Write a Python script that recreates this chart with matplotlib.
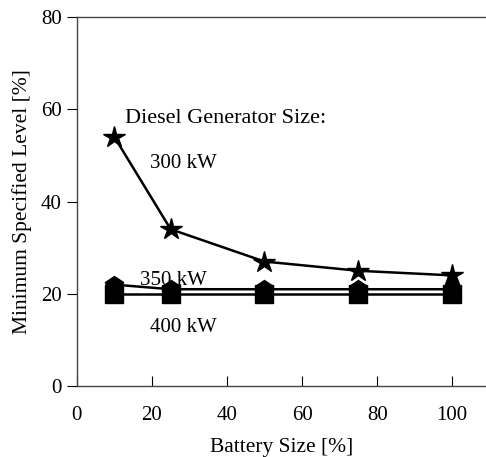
import matplotlib.pyplot as plt

battery = [10, 25, 50, 75, 100]
gen_300 = [54, 34, 27, 25, 24]
gen_350 = [22, 21, 21, 21, 21]
gen_400 = [20, 20, 20, 20, 20]

plt.rcParams['font.family'] = 'Liberation Serif'

fig = plt.figure(figsize=(4.86, 4.57), dpi=100)
ax = fig.add_axes([0.158, 0.155, 0.842, 0.808])

ax.plot(battery, gen_400, color='black', lw=1.8, marker='s', ms=12.5, zorder=2)
ax.plot(battery, gen_350, color='black', lw=1.8, marker='p', ms=13, zorder=3)
ax.plot(battery, gen_300, color='black', lw=1.8, marker='*', ms=16, zorder=4)

ax.text(12.8, 57.0, 'Diesel Generator Size:', fontsize=16, va='baseline')
ax.text(19.5, 47.3, '300 kW', fontsize=15, va='baseline')
ax.text(16.8, 21.9, '350 kW', fontsize=15, va='baseline')
ax.text(19.5, 11.7, '400 kW', fontsize=15, va='baseline')

ax.set_xlim(0, 109)
ax.set_ylim(0, 80)
ax.set_xticks([0, 20, 40, 60, 80, 100])
ax.set_yticks([0, 20, 40, 60, 80])
ax.tick_params(axis='x', direction='in', length=7, labelsize=15, pad=14)
ax.tick_params(axis='y', direction='out', length=7, labelsize=15, pad=4)
ax.spines['right'].set_visible(False)
for s in ['left', 'top', 'bottom']:
    ax.spines[s].set_color('#444444')
    ax.spines[s].set_linewidth(1.0)

ax.set_xlabel('Battery Size [%]', fontsize=15.5, labelpad=10)
ax.set_ylabel('Minimum Specified Level [%]', fontsize=15.5, labelpad=6)

fig.savefig('out.png', dpi=100)
